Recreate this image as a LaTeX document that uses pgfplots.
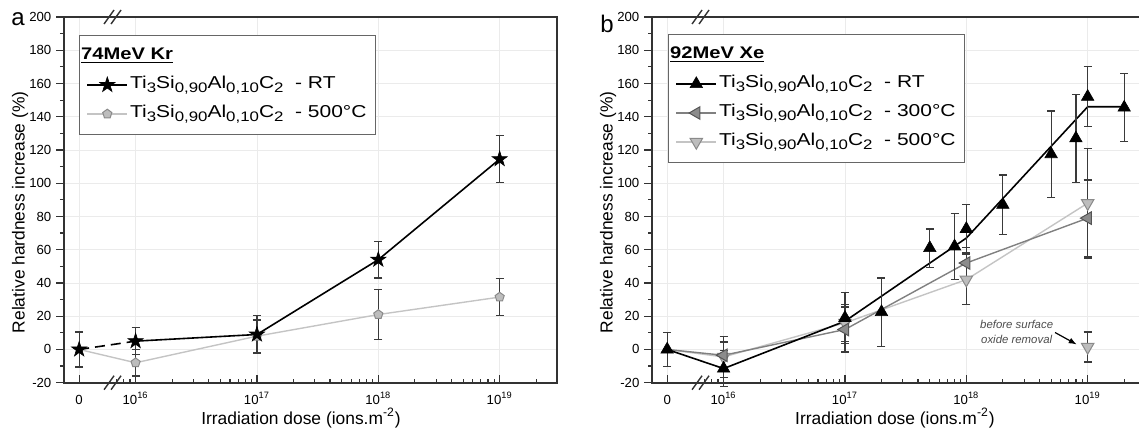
\documentclass[border=0pt]{standalone}
\usepackage{pgfplots}
\pgfplotsset{compat=1.18}
\usepackage{fontspec}
\setmainfont{Liberation Sans}
\usetikzlibrary{plotmarks,arrows.meta}

\definecolor{spine}{HTML}{333333}
\definecolor{ebar}{HTML}{3A3A3A}
\definecolor{cthreeline}{HTML}{808080}
\definecolor{cthreefill}{HTML}{8C8C8C}
\definecolor{cthreedraw}{HTML}{555555}
\definecolor{cfiveline}{HTML}{C4C4C4}
\definecolor{cfivefill}{HTML}{BDBDBD}
\definecolor{cfivedraw}{HTML}{8A8A8A}

\pgfdeclareplotmark{fstar}{%
  \pgfpathmoveto{\pgfpointpolar{90}{\pgfplotmarksize}}%
  \pgfpathlineto{\pgfpointpolar{126}{0.382*\pgfplotmarksize}}%
  \pgfpathlineto{\pgfpointpolar{162}{\pgfplotmarksize}}%
  \pgfpathlineto{\pgfpointpolar{198}{0.382*\pgfplotmarksize}}%
  \pgfpathlineto{\pgfpointpolar{234}{\pgfplotmarksize}}%
  \pgfpathlineto{\pgfpointpolar{270}{0.382*\pgfplotmarksize}}%
  \pgfpathlineto{\pgfpointpolar{306}{\pgfplotmarksize}}%
  \pgfpathlineto{\pgfpointpolar{342}{0.382*\pgfplotmarksize}}%
  \pgfpathlineto{\pgfpointpolar{18}{\pgfplotmarksize}}%
  \pgfpathlineto{\pgfpointpolar{54}{0.382*\pgfplotmarksize}}%
  \pgfpathclose
  \pgfusepathqfillstroke}

\newcommand{\lgfont}{\fontsize{8.6}{9.5}\selectfont}
\newcommand{\sbs}[1]{\raisebox{-2.2pt}{\fontsize{6.9}{7.5}\selectfont #1}}
\newcommand{\comp}{Ti\sbs{3}Si\sbs{0,90}Al\sbs{0,10}C\sbs{2}}
\newcommand{\lgentry}[1]{\scalebox{1.22}[1]{\lgfont\comp\ \ - #1}}
\newcommand{\lgtitle}[1]{\hspace*{-24.5pt}\scalebox{1.2}[1]{\fontsize{8.4}{9}\selectfont\underline{\textbf{#1}}}}

\pgfplotsset{
  panel/.style={
    scale only axis, width=246.35pt, height=182.85pt,
    clip=false,
    xmin=15.41, xmax=19.47, ymin=-20, ymax=200,
    xtick={15.535,16,17,18,19},
    xticklabels={0,10\textsuperscript{16},10\textsuperscript{17},10\textsuperscript{18},10\textsuperscript{19}},
    minor xtick={15.8451,15.9031,15.9542,
      16.3010,16.4771,16.6021,16.6990,16.7782,16.8451,16.9031,16.9542,
      17.3010,17.4771,17.6021,17.6990,17.7782,17.8451,17.9031,17.9542,
      18.3010,18.4771,18.6021,18.6990,18.7782,18.8451,18.9031,18.9542,
      19.3010},
    ytick={-20,0,...,200},
    minor y tick num=1,
    xtick pos=bottom, ytick pos=left,
    xtick align=inside, ytick align=outside,
    major tick length=3.8pt, minor tick length=2pt,
    tick style={spine, line width=0.6pt},
    axis line style={spine, line width=0.9pt},
    grid=major, major grid style={black!8, line width=0.4pt},
    /pgf/number format/assume math mode=true,
    tick label style={font=\fontsize{6.6}{7.5}\selectfont},
    xticklabel style={text height=5pt, text depth=0pt},
    xticklabel shift=2.2pt,
    yticklabel shift=-1pt,
    label style={font=\fontsize{8.7}{10}\selectfont},
    xlabel={Irradiation dose (ions.m\textsuperscript{-2})},
    ylabel={Relative hardness increase (\%)},
    ylabel style={at={(axis description cs:-0.0893,0.466)}, anchor=center},
    legend cell align=left,
    legend image code/.code={\draw[mark repeat=2,mark phase=2] plot coordinates {(0pt,0pt)(10pt,0pt)(20pt,0pt)};},
    legend style={draw=black!60, line width=0.5pt, fill=white,
      font=\lgfont, row sep=0pt, inner xsep=3.5pt, inner ysep=3pt,
      nodes={inner sep=1pt, text height=8pt, text depth=4.5pt}},
    error bars/error bar style={ebar, line width=0.6pt, solid},
    error bars/error mark options={rotate=90, mark size=2pt, line width=0.6pt, ebar, solid},
  }
}

\begin{document}
\begin{tikzpicture}
\useasboundingbox (0,0) rectangle (569.5pt,216.5pt);

% ---------------- panel a ----------------
\begin{axis}[panel, at={(32pt,25.15pt)}, anchor=south west,
  xlabel style={at={(axis description cs:0.481,-0.0965)}, anchor=center},
  legend style={at={(axis description cs:0,1)}, anchor=north west, xshift=7.5pt, yshift=-9pt}]
% lines
\addplot[cfiveline, line width=0.7pt, forget plot] coordinates {(15.535,0) (16,-8) (17,8) (18,21) (19,31.5)};
\addplot[black, line width=0.8pt, dashed, dash pattern=on 5pt off 3pt, forget plot] coordinates {(15.535,0) (16,5)};
\addplot[black, line width=0.8pt, forget plot] coordinates {(16,5) (17,9) (18,54) (19,114.5)};
% markers with error bars
\addplot[forget plot, only marks, mark=pentagon*, mark size=2.4pt, mark options={fill=cfivefill, draw=cfivedraw, line width=0.5pt},
  error bars/.cd, y dir=both, y explicit] coordinates {
  (16,-8) +- (0,8)
  (17,8) +- (0,9.7)
  (18,21) +- (0,15)
  (19,31.5) +- (0,11)};
\addplot[forget plot, only marks, mark=fstar, mark size=4pt, mark options={fill=black, draw=black, line width=0.3pt},
  error bars/.cd, y dir=both, y explicit] coordinates {
  (15.535,0) +- (0,10.5)
  (16,5) +- (0,8)
  (17,9) +- (0,11.5)
  (18,54) +- (0,11)
  (19,114.5) +- (0,14)};
% legend
\addlegendimage{empty legend}
\addlegendentry{\lgtitle{74MeV Kr}}
\addlegendimage{black, line width=0.8pt, mark=fstar, mark size=4pt, mark options={fill=black, line width=0.3pt}}
\addlegendentry{\lgentry{RT}}
\addlegendimage{cfiveline, line width=0.7pt, mark=pentagon*, mark size=2.4pt, mark options={fill=cfivefill, draw=cfivedraw, line width=0.5pt}}
\addlegendentry{\lgentry{500°C}}
% axis breaks
\draw[spine, line width=0.7pt] ([xshift=-1.75pt]axis cs:15.81,-20) +(-2.5pt,-3.5pt) -- +(2.5pt,3.5pt);
\draw[spine, line width=0.7pt] ([xshift=1.75pt]axis cs:15.81,-20) +(-2.5pt,-3.5pt) -- +(2.5pt,3.5pt);
\draw[spine, line width=0.7pt] ([xshift=-1.75pt]axis cs:15.81,200) +(-2.5pt,-3.5pt) -- +(2.5pt,3.5pt);
\draw[spine, line width=0.7pt] ([xshift=1.75pt]axis cs:15.81,200) +(-2.5pt,-3.5pt) -- +(2.5pt,3.5pt);
\end{axis}

% ---------------- panel b ----------------
\begin{axis}[panel, at={(326pt,25.15pt)}, anchor=south west,
  xlabel style={at={(axis description cs:0.493,-0.0965)}, anchor=center},
  legend style={at={(axis description cs:0,1)}, anchor=north west, xshift=8pt, yshift=-8.5pt}]
% lines
\addplot[cfiveline, line width=0.7pt, forget plot] coordinates {(15.535,0) (16,-4.5) (17,16) (18,42) (19,88)};
\addplot[cthreeline, line width=0.7pt, forget plot] coordinates {(15.535,0) (16,-3.5) (17,12) (18,52) (19,79)};
\addplot[black, line width=0.8pt, forget plot] coordinates {(15.535,0) (16,-11.5) (17,17) (18,67) (19,146) (19.301,146)};
% markers with error bars
\addplot[forget plot, only marks, mark=triangle*, mark size=3.6pt, mark options={rotate=180, fill=cfivefill, draw=cfivedraw, line width=0.5pt},
  error bars/.cd, y dir=both, y explicit] coordinates {
  (16,-4.5) +- (0,12.5)
  (17,16) +- (0,11)
  (18,42) +- (0,15)
  (19,88) +- (0,33)};
\addplot[forget plot, only marks, mark=triangle*, mark size=3.6pt, mark options={rotate=90, fill=cthreefill, draw=cthreedraw, line width=0.5pt},
  error bars/.cd, y dir=both, y explicit] coordinates {
  (16,-3.5) +- (0,8)
  (17,12) +- (0,13.5)
  (18,52) +- (0,9.5)
  (19,79) +- (0,23)};
\addplot[forget plot, only marks, mark=triangle*, mark size=3.6pt, mark options={fill=black, draw=black, line width=0.3pt},
  error bars/.cd, y dir=both, y explicit] coordinates {
  (15.535,0) +- (0,10.3)
  (16,-11.5) +- (0,11)
  (17,19) +- (0,15.5)
  (17.301,22.5) +- (0,20.5)
  (17.699,61) +- (0,11.5)
  (17.903,62) +- (0,20)
  (18,72.5) +- (0,14.5)
  (18.301,87) +- (0,18)
  (18.699,117.5) +- (0,26)
  (18.903,127) +- (0,26.5)
  (19,152) +- (0,18)
  (19.301,145.5) +- (0,20.5)};
% point before surface oxide removal
\addplot[forget plot, only marks, mark=triangle*, mark size=3.6pt, mark options={rotate=180, fill=cfivefill, draw=cfivedraw, line width=0.5pt},
  error bars/.cd, y dir=both, y explicit] coordinates {(19,1.5) +- (0,9)};
% legend
\addlegendimage{empty legend}
\addlegendentry{\lgtitle{92MeV Xe}}
\addlegendimage{black, line width=0.8pt, mark=triangle*, mark size=3.6pt, mark options={fill=black, line width=0.3pt}}
\addlegendentry{\lgentry{RT}}
\addlegendimage{cthreeline, line width=0.7pt, mark=triangle*, mark size=3.6pt, mark options={rotate=90, fill=cthreefill, draw=cthreedraw, line width=0.5pt}}
\addlegendentry{\lgentry{300°C}}
\addlegendimage{cfiveline, line width=0.7pt, mark=triangle*, mark size=3.6pt, mark options={rotate=180, fill=cfivefill, draw=cfivedraw, line width=0.5pt}}
\addlegendentry{\lgentry{500°C}}
% annotation
\node[font=\fontsize{5.7}{7.5}\selectfont\itshape, text=black!70, align=center] at (axis cs:18.415,10.4) {before surface\\oxide removal};
\draw[-{Latex[length=4pt,width=3pt]}, line width=0.6pt, black] (axis cs:18.731,10.2) -- (axis cs:18.91,3.0);
% axis breaks
\draw[spine, line width=0.7pt] ([xshift=-1.75pt]axis cs:15.81,-20) +(-2.5pt,-3.5pt) -- +(2.5pt,3.5pt);
\draw[spine, line width=0.7pt] ([xshift=1.75pt]axis cs:15.81,-20) +(-2.5pt,-3.5pt) -- +(2.5pt,3.5pt);
\draw[spine, line width=0.7pt] ([xshift=-1.75pt]axis cs:15.81,200) +(-2.5pt,-3.5pt) -- +(2.5pt,3.5pt);
\draw[spine, line width=0.7pt] ([xshift=1.75pt]axis cs:15.81,200) +(-2.5pt,-3.5pt) -- +(2.5pt,3.5pt);
\end{axis}

\node[anchor=base west, inner sep=0pt, font=\fontsize{12}{14}\selectfont] at (5.5pt,203.5pt) {a};
\node[anchor=base west, inner sep=0pt, font=\fontsize{12}{14}\selectfont] at (300pt,200pt) {b};
\end{tikzpicture}
\end{document}
